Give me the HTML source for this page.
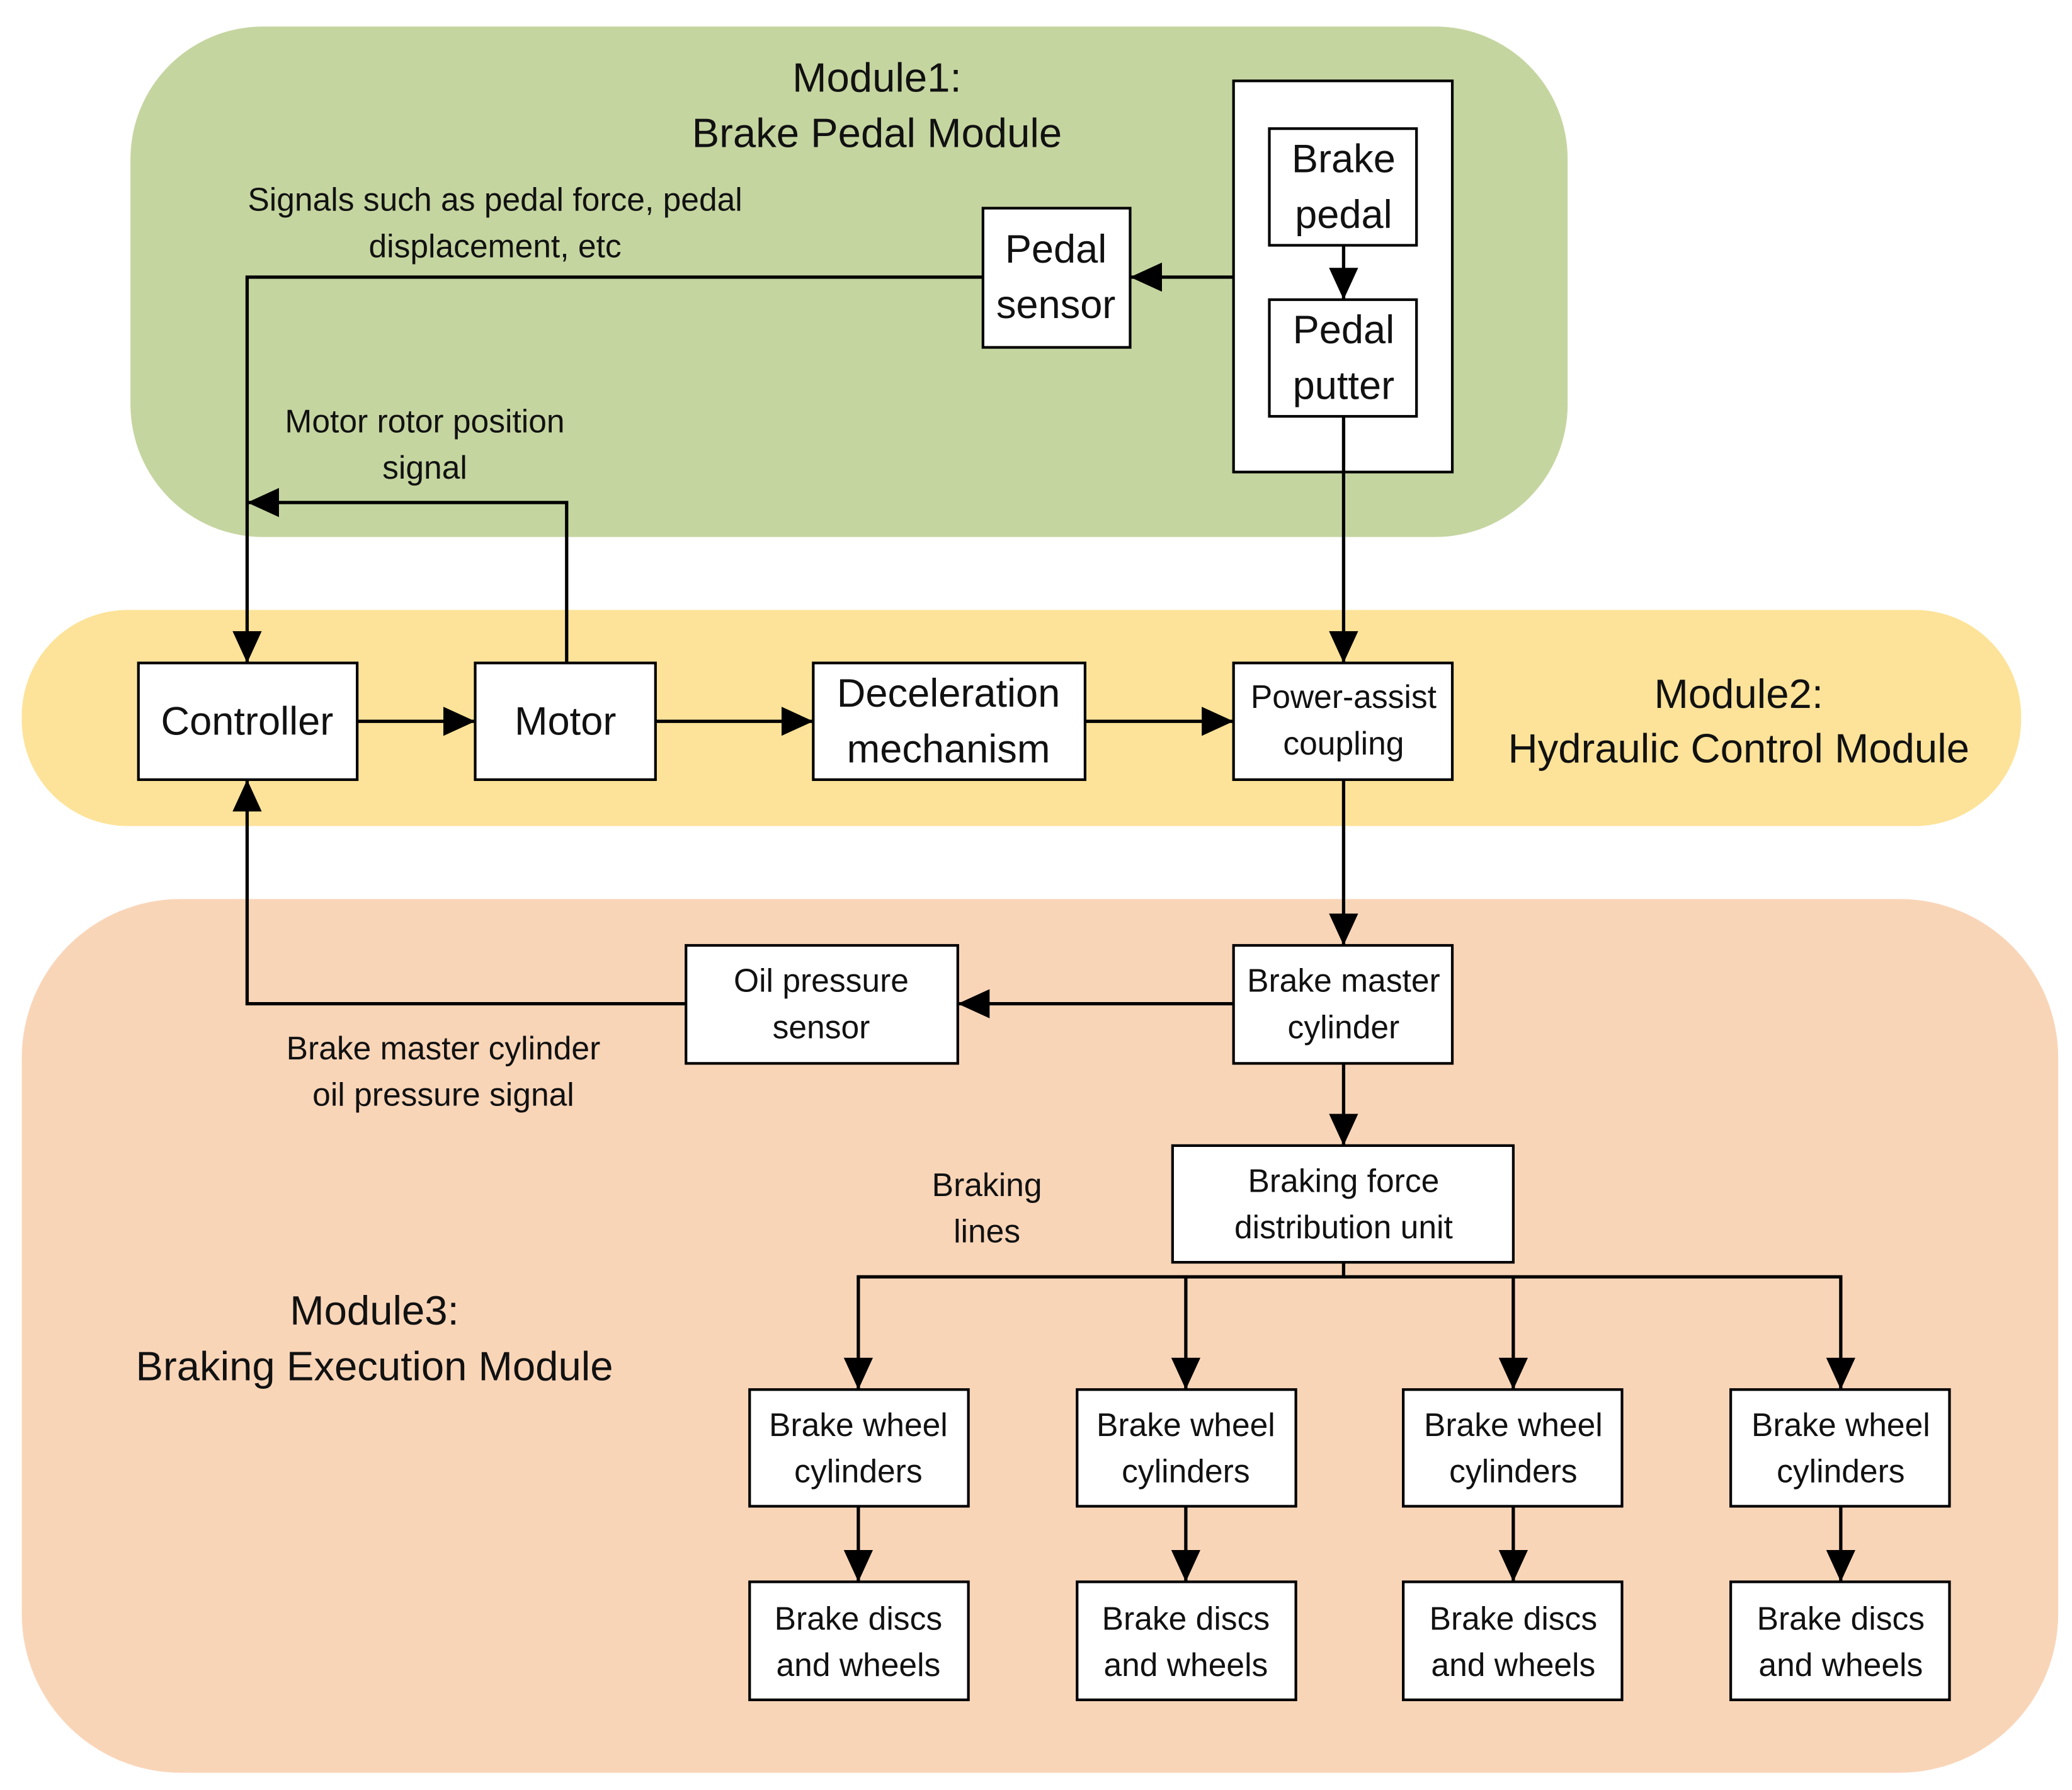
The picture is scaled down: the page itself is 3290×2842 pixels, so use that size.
<!DOCTYPE html>
<html><head><meta charset="utf-8"><style>
html,body{margin:0;padding:0;background:#fff;}
svg{display:block;}
text{font-family:"Liberation Sans",sans-serif;fill:#111;text-anchor:middle;}
</style></head><body>
<svg width="3290" height="2842" viewBox="0 0 1562 1350" xmlns="http://www.w3.org/2000/svg">
<defs>
<marker id="a" markerUnits="userSpaceOnUse" markerWidth="24" markerHeight="24" viewBox="0 0 24 24" refX="24" refY="12" orient="auto">
<path d="M0,1 L24,12 L0,23 Z" fill="#000"/></marker>
</defs>
<rect x="98" y="20" width="1084" height="385" rx="100" fill="#c5d5a0"/>
<rect x="16" y="460" width="1508" height="163" rx="80" fill="#fde399"/>
<rect x="16" y="678" width="1536" height="659" rx="120" fill="#f9d5b8"/>

<g fill="#fff" stroke="#000" stroke-width="2">
<rect x="930" y="61" width="165" height="295"/>
<rect x="957" y="97" width="111" height="88"/>
<rect x="957" y="226" width="111" height="88"/>
<rect x="741" y="157" width="111" height="105"/>
<rect x="104" y="500" width="165" height="88"/>
<rect x="358" y="500" width="136" height="88"/>
<rect x="613" y="500" width="205" height="88"/>
<rect x="930" y="500" width="165" height="88"/>
<rect x="517" y="713" width="205" height="89"/>
<rect x="930" y="713" width="165" height="89"/>
<rect x="884" y="864" width="257" height="88"/>
<rect x="565" y="1048" width="165" height="88"/><rect x="812" y="1048" width="165" height="88"/>
<rect x="1058" y="1048" width="165" height="88"/><rect x="1305" y="1048" width="165" height="88"/>
<rect x="565" y="1193" width="165" height="89"/><rect x="812" y="1193" width="165" height="89"/>
<rect x="1058" y="1193" width="165" height="89"/><rect x="1305" y="1193" width="165" height="89"/>
</g>

<g fill="none" stroke="#000" stroke-width="2.5" marker-end="url(#a)">
<path d="M1013 185 V226"/>
<path d="M930 209 H852"/>
<path d="M741 209 H186 V500"/>
<path d="M427 500 V379 H186"/>
<path d="M269 544 H358"/>
<path d="M494 544 H613"/>
<path d="M818 544 H930"/>
<path d="M1013 314 V500"/>
<path d="M1013 588 V713"/>
<path d="M930 757 H722"/>
<path d="M517 757 H186 V588"/>
<path d="M1013 802 V864"/>
<path d="M1013 952 V963 H647 V1048"/>
<path d="M894 963 V1048"/><path d="M1141 963 V1048"/>
<path d="M1013 963 H1388 V1048"/>
<path d="M647 1136 V1193"/><path d="M894 1136 V1193"/><path d="M1141 1136 V1193"/><path d="M1388 1136 V1193"/>
</g>

<g font-size="31">
<text x="661" y="69">Module1:</text>
<text x="661" y="111">Brake Pedal Module</text>
<text x="1311" y="534">Module2:</text>
<text x="1311" y="575">Hydraulic Control Module</text>
<text x="282" y="999">Module3:</text>
<text x="282" y="1041">Braking Execution Module</text>
</g>
<g font-size="30">
<text x="1013" y="130">Brake</text><text x="1013" y="172">pedal</text>
<text x="1013" y="259">Pedal</text><text x="1013" y="301">putter</text>
<text x="796" y="198">Pedal</text><text x="796" y="240">sensor</text>
<text x="186" y="554">Controller</text>
<text x="426" y="554">Motor</text>
<text x="715" y="533">Deceleration</text><text x="715" y="575">mechanism</text>
</g>
<g font-size="24.5">
<text x="1013" y="534">Power-assist</text><text x="1013" y="569">coupling</text>
<text x="619" y="748">Oil pressure</text><text x="619" y="783">sensor</text>
<text x="1013" y="748">Brake master</text><text x="1013" y="783">cylinder</text>
<text x="1013" y="899">Braking force</text><text x="1013" y="934">distribution unit</text>
<text x="373" y="159">Signals such as pedal force, pedal</text><text x="373" y="194">displacement, etc</text>
<text x="320" y="326">Motor rotor position</text><text x="320" y="361">signal</text>
<text x="334" y="799">Brake master cylinder</text><text x="334" y="834">oil pressure signal</text>
<text x="744" y="902">Braking</text><text x="744" y="937">lines</text>
<text x="647" y="1083">Brake wheel</text><text x="647" y="1118">cylinders</text>
<text x="894" y="1083">Brake wheel</text><text x="894" y="1118">cylinders</text>
<text x="1141" y="1083">Brake wheel</text><text x="1141" y="1118">cylinders</text>
<text x="1388" y="1083">Brake wheel</text><text x="1388" y="1118">cylinders</text>
<text x="647" y="1229">Brake discs</text><text x="647" y="1264">and wheels</text>
<text x="894" y="1229">Brake discs</text><text x="894" y="1264">and wheels</text>
<text x="1141" y="1229">Brake discs</text><text x="1141" y="1264">and wheels</text>
<text x="1388" y="1229">Brake discs</text><text x="1388" y="1264">and wheels</text>
</g>
</svg>
</body></html>
